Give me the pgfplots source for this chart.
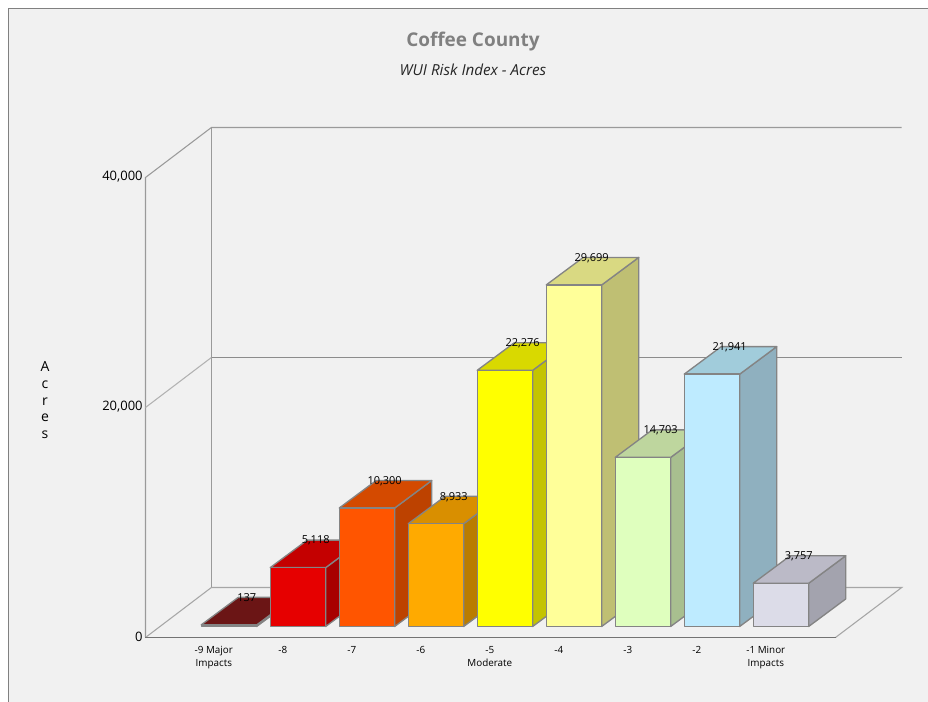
\documentclass[border=0pt]{standalone}
\usepackage{fontspec}
\setmainfont{Open Sans}
\usepackage{pgfplots}
\usepackage{pgfplotstable}
\pgfplotsset{compat=1.18}

% Acres per WUI risk class; pos is the slot along the floor
\pgfplotstableread{
pos acres
1   137
2   5118
3   10300
4   8933
5   22276
6   29699
7   14703
8   21941
9   3757
}\riskdata

\definecolor{panel}{HTML}{F1F1F1}
\definecolor{panelrule}{HTML}{808080}
\definecolor{wallrule}{HTML}{9A9A9A}
\definecolor{barrule}{HTML}{848484}

% Front, top and side shades of each class
\definecolor{fa}{HTML}{7A1616}\definecolor{ta}{HTML}{6B1515}\definecolor{sa}{HTML}{5A1010}
\definecolor{fb}{HTML}{E60000}\definecolor{tb}{HTML}{C40000}\definecolor{sb}{HTML}{A80000}
\definecolor{fc}{HTML}{FF5500}\definecolor{tc}{HTML}{D44A00}\definecolor{sc}{HTML}{BD4200}
\definecolor{fd}{HTML}{FFAA00}\definecolor{td}{HTML}{D98F00}\definecolor{sd}{HTML}{BA7C00}
\definecolor{fe}{HTML}{FFFF00}\definecolor{te}{HTML}{D9D900}\definecolor{se}{HTML}{C4C400}
\definecolor{ff}{HTML}{FFFF99}\definecolor{tf}{HTML}{D9D982}\definecolor{sf}{HTML}{BFBF73}
\definecolor{fg}{HTML}{DFFFBE}\definecolor{tg}{HTML}{BED69E}\definecolor{sg}{HTML}{A8BF8F}
\definecolor{fh}{HTML}{BEEBFF}\definecolor{th}{HTML}{A1CCDB}\definecolor{sh}{HTML}{8FB0BF}
\definecolor{fi}{HTML}{DCDCE8}\definecolor{ti}{HTML}{BBBAC7}\definecolor{si}{HTML}{A3A3AE}

% Extruded bar: slot, acres, front colour, top colour, side colour.
% The bar stands 960 acres up the floor and is 2391 acres of rise deep.
\newcommand{\threedbar}[5]{%
  \pgfmathsetmacro{\xl}{#1+0.21-0.402}%
  \pgfmathsetmacro{\xr}{#1+0.21+0.402}%
  \pgfmathsetmacro{\xbl}{\xl+0.536}%
  \pgfmathsetmacro{\xbr}{\xr+0.536}%
  \edef\yf{\the\numexpr#2+960\relax}%
  \edef\yb{\the\numexpr#2+3351\relax}%
  \addplot[draw=barrule, line width=1pt, line join=round, fill=#5]
    coordinates {(\xr,960) (\xbr,3351) (\xbr,\yb) (\xr,\yf)} -- cycle;
  \addplot[draw=barrule, line width=1pt, line join=round, fill=#4]
    coordinates {(\xl,\yf) (\xr,\yf) (\xbr,\yb) (\xbl,\yb)} -- cycle;
  \addplot[draw=barrule, line width=1pt, line join=round, fill=#3]
    coordinates {(\xl,960) (\xr,960) (\xr,\yf) (\xl,\yf)} -- cycle;
}

\begin{document}
\begin{tikzpicture}[x=1pt,y=1pt]
  \useasboundingbox (0,0) rectangle (696,526.5);
  \fill[white] (0,0) rectangle (696,526.5);
  \fill[panel] (6.4,0) rectangle (696,520.1);
  \draw[panelrule, line width=0.8pt] (6.4,0) -- (6.4,520.1) -- (696,520.1);
  \begin{axis}[
    anchor=south west,
    at={(109.125pt,48.375pt)},
    scale only axis,
    width=517.5pt,
    height=345pt,
    xmin=0, xmax=10,
    ymin=0, ymax=40000,
    clip=false,
    axis line style={draw=none},
    tick style={draw=none},
    major tick length=0pt,
    xtick={1,2,3,4,5,6,7,8,9},
    xticklabels={{-9 Major\\Impacts},{-8},{-7},{-6},{-5\\Moderate},{-4},{-3},{-2},{-1 Minor\\Impacts}},
    xticklabel style={font=\fontsize{7.4}{9.2}\selectfont, align=center, anchor=north, yshift=-3.4pt, xshift=-0.5pt},
    ytick={0,20000,40000},
    scaled y ticks=false,
    yticklabel style={font=\fontsize{9.75}{11}\selectfont, yshift=0.8pt, xshift=1.4pt,
      /pgf/number format/fixed, /pgf/number format/1000 sep={,},
      /pgf/number format/assume math mode=true},
    ylabel={A\\c\\r\\e\\s},
    ylabel style={at={(axis description cs:-0.1457,0.516)}, rotate=-90, anchor=center,
      align=center, font=\fontsize{10.5}{12.5}\selectfont},
    title={\textbf{Coffee County}},
    title style={at={(axis description cs:0.4746,1.2775)}, anchor=center,
      font=\fontsize{14.2}{17}\selectfont, text=black!50},
  ]
    % walls and floor behind the bars
    \addplot[wallrule, line width=0.8pt] coordinates {(0,0) (0,40000) (0.955,44348) (10.96,44348)};
    \addplot[wallrule, line width=0.8pt] coordinates {(0.955,4348) (0.955,44348)};
    \addplot[black!45, line width=0.8pt] coordinates {(0.955,24348) (10.96,24348)};
    \addplot[black!30, line width=0.8pt] coordinates {(0,20000) (0.955,24348)};
    \addplot[black!35, line width=0.8pt] coordinates {(0,0) (0.955,4348) (10.96,4348) (10,0)};
    \addplot[black!55, line width=0.8pt] coordinates {(0,0) (10,0)};

    \threedbar{1}{137}{fa}{ta}{sa}
    \threedbar{2}{5118}{fb}{tb}{sb}
    \threedbar{3}{10300}{fc}{tc}{sc}
    \threedbar{4}{8933}{fd}{td}{sd}
    \threedbar{5}{22276}{fe}{te}{se}
    \threedbar{6}{29699}{ff}{tf}{sf}
    \threedbar{7}{14703}{fg}{tg}{sg}
    \threedbar{8}{21941}{fh}{th}{sh}
    \threedbar{9}{3757}{fi}{ti}{si}

    % value labels sit at the back edge of each bar's top
    \addplot[draw=none, mark=none, point meta=explicit,
      nodes near coords={\pgfmathprintnumber[fixed, precision=0, 1000 sep={,}, assume math mode=true]{\pgfplotspointmeta}},
      nodes near coords style={anchor=center, font=\fontsize{8.25}{10}\selectfont, text=black, inner sep=0pt}]
      table[x expr=\thisrow{pos}+0.4665, y expr=\thisrow{acres}+3300, meta=acres] {\riskdata};

    \node[font=\itshape\fontsize{11.4}{13}\selectfont, text=black!85]
      at (axis description cs:0.4746,1.2337) {WUI Risk Index - Acres};
  \end{axis}
\end{tikzpicture}
\end{document}
